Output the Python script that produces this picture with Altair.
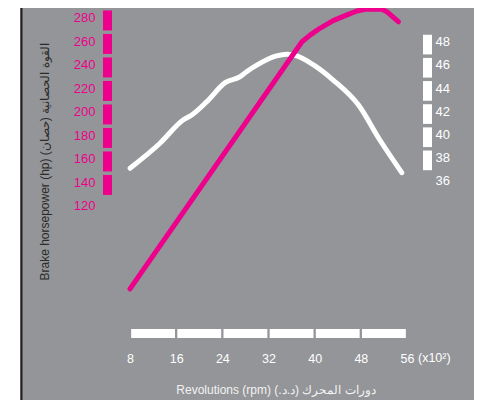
import altair as alt
import pandas as pd

PINK = "#EC008C"
GRAY = "#939598"

# Brake horsepower curve (hp) vs revolutions (x100 rpm)
rpm_power = [8, 37.8, 39.2, 40.9, 43.2, 45.5, 47.3, 49.0, 51.6, 52.5, 54.5]
power_hp = [49, 259.4, 265, 270.8, 277.3, 282, 285.5, 287.2, 287, 285, 276.4]

# Torque curve (right scale)
rpm_torque = [8, 13.2, 17.2, 18.7, 21.3, 24.5, 27.1, 28.2, 30.5, 33.4, 35.2, 36.9,
              39.8, 43.2, 47.6, 51.3, 55.1]
torque = [37.07, 39.23, 41.24, 41.67, 42.82, 44.46, 44.98, 45.41, 46.13, 46.77,
          46.91, 46.77, 45.99, 44.69, 42.53, 39.51, 36.69]

hp_ticks = [120, 140, 160, 180, 200, 220, 240, 260, 280]
hp_bands = [140, 160, 180, 200, 220, 240, 260, 280]
torque_ticks = [36, 38, 40, 42, 44, 46, 48]
torque_bands = [38, 40, 42, 44, 46, 48]
rpm_ticks = [8, 16, 24, 32, 40, 48, 56]
rpm_bands = [8, 16, 24, 32, 40, 48]

x_title = "Revolutions (rpm)  دورات المحرك (د.د.)"
y_title = "Brake horsepower (hp)  القوة الحصانية (حصان)"
x_unit = "(x10²)"

power_df = pd.DataFrame({"rpm": rpm_power, "hp": power_hp})
torque_df = pd.DataFrame({"rpm": rpm_torque, "t": torque})
hp_band_df = pd.DataFrame({"v": hp_bands})
t_band_df = pd.DataFrame({"v": torque_bands})
rpm_band_df = pd.DataFrame({"v": rpm_bands})
one = pd.DataFrame({"v": [56]})

x_scale = alt.Scale(domain=[8, 56], nice=False, zero=False)
hp_scale = alt.Scale(domain=[7.23, 288.09], nice=False, zero=False)
t_scale = alt.Scale(domain=[22.41, 50.91], nice=False, zero=False)

x_axis = alt.Axis(values=rpm_ticks, labelColor="white", labelFontSize=12.5,
                  ticks=False, domain=False, grid=False, labelPadding=0, offset=20,
                  labelBaseline="middle", title=None, labelFlush=False,
                  labelOverlap=False)
left_axis = alt.Axis(orient="left", values=hp_ticks, labelColor=PINK, labelFontSize=13,
                     ticks=False, domain=False, grid=False, labelPadding=0, offset=35,
                     title=None, labelOverlap=False)
right_axis = alt.Axis(orient="right", values=torque_ticks, labelColor="white",
                      labelFontSize=13, ticks=False, domain=False, grid=False,
                      labelPadding=0, offset=28, title=None, labelOverlap=False)

white_strip = alt.Chart(one).mark_rect(color="white").encode(
    x=alt.value(-122), x2=alt.value(-110), y=alt.value(-10), y2=alt.value(400))
edge_rule = alt.Chart(one).mark_rule(color="#231f20", strokeWidth=2).encode(
    x=alt.value(-108.5), y=alt.value(-10), y2=alt.value(400))

hp_band = alt.Chart(hp_band_df).transform_calculate(
    top="datum.v + 6", bot="datum.v - 11").mark_rect(color=PINK).encode(
    y=alt.Y("top:Q", scale=hp_scale, axis=None), y2="bot:Q",
    x=alt.value(-27), x2=alt.value(-18))

hp_line = alt.Chart(power_df).mark_line(color=PINK, strokeWidth=5, strokeCap="round",
                                        strokeJoin="round").encode(
    x=alt.X("rpm:Q", scale=x_scale, axis=x_axis),
    y=alt.Y("hp:Q", scale=hp_scale, axis=left_axis))

t_band = alt.Chart(t_band_df).transform_calculate(
    top="datum.v + 0.6", bot="datum.v - 1.1").mark_rect(color="white").encode(
    y=alt.Y("top:Q", scale=t_scale, axis=None), y2="bot:Q",
    x=alt.value(293), x2=alt.value(302))

t_line = alt.Chart(torque_df).mark_line(color="white", strokeWidth=5, strokeCap="round",
                                        strokeJoin="round", interpolate="monotone").encode(
    x=alt.X("rpm:Q", scale=x_scale, axis=x_axis),
    y=alt.Y("t:Q", scale=t_scale, axis=right_axis))

x_band = alt.Chart(rpm_band_df).transform_calculate(
    a="datum.v + 0.2", b="datum.v + 7.8").mark_rect(color="white").encode(
    x=alt.X("a:Q", scale=x_scale, axis=x_axis), x2="b:Q",
    y=alt.value(321), y2=alt.value(330))

unit_text = alt.Chart(one).mark_text(align="left", baseline="middle", dx=11,
                                     color="white", fontSize=12.5).encode(
    x=alt.X("v:Q", scale=x_scale, axis=x_axis), y=alt.value(350),
    text=alt.value(x_unit))

xt = alt.Chart(one).mark_text(align="center", baseline="middle", color="#f2f2f2",
                              fontSize=12).encode(
    x=alt.value(146), y=alt.value(382), text=alt.value(x_title))

yt = alt.Chart(one).mark_text(align="center", baseline="middle", color="#2b2b2b",
                              fontSize=12, angle=270).encode(
    x=alt.value(-85), y=alt.value(154), text=alt.value(y_title))

chart = alt.layer(
    white_strip, edge_rule, x_band, hp_band, t_band, t_line, hp_line, unit_text, xt, yt
).resolve_scale(y="independent").properties(
    width=277, height=330,
    autosize=alt.AutoSizeParams(type="none"),
    padding={"left": 122, "top": 0, "right": 67, "bottom": 62},
    background=GRAY,
).configure_view(strokeWidth=0).configure_axis(
    labelFont="Liberation Sans"
).configure_text(font="Liberation Sans")

chart.save("out.html", embed_options={"renderer": "svg", "actions": False})
